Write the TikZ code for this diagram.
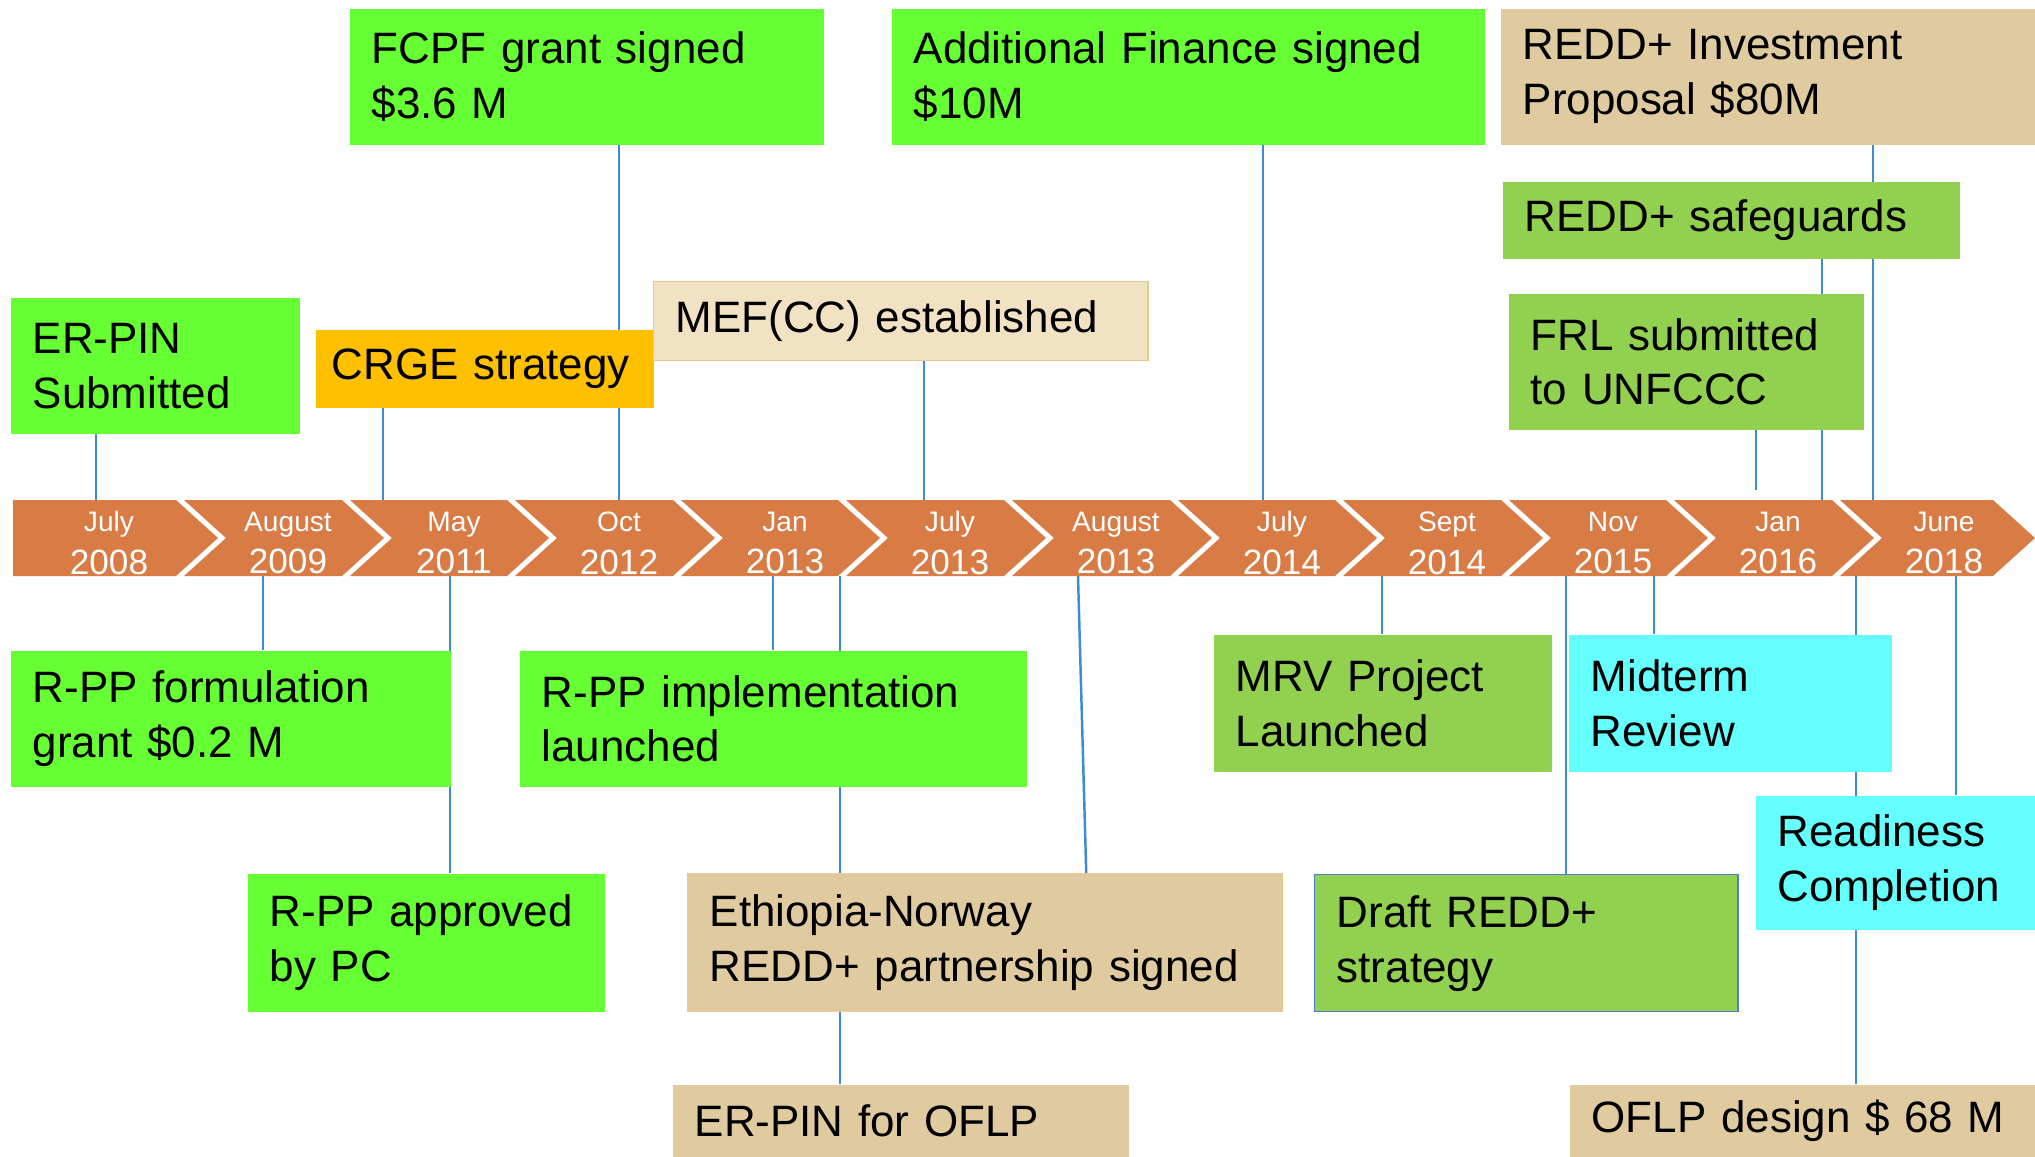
\documentclass[tikz,border=0pt]{standalone}
\usepackage{fontspec}
\setmainfont{Liberation Sans}
\usepackage{xcolor}
\usetikzlibrary{backgrounds}

\definecolor{evgreen}{HTML}{66FF33}
\definecolor{evolive}{HTML}{92D050}
\definecolor{evcyan}{HTML}{66FFFF}
\definecolor{evorange}{HTML}{FFC000}
\definecolor{evtan}{HTML}{E0CBA0}
\definecolor{evtanlight}{HTML}{F2E2C4}
\definecolor{evtanedge}{HTML}{EBC78E}
\definecolor{chevorange}{HTML}{D97B45}
\definecolor{linkblue}{HTML}{3E8AD6}
\definecolor{draftedge}{HTML}{4A7FD0}

\begin{document}
\begin{tikzpicture}[x=0.01cm,y=-0.01cm,
		box/.style={anchor=north west,inner xsep=0.22cm,inner ysep=0pt,align=left,
			font=\fontsize{12.5}{15.6}\selectfont},
		chev/.style={fill=chevorange},
		date/.style={text=white,align=center,font=\fontsize{10}{12.2}\selectfont},
		link/.style={draw=linkblue,line width=0.7pt}]
		\useasboundingbox (0,0) rectangle (2035,1157);
		%
		% boxes above the band
		\node[box,fill=evgreen,minimum height=1.36cm,text width=4.30cm] (fcpf) at (349,8) {FCPF grant signed\\\$3.6 M};
		\node[box,fill=evgreen,minimum height=1.36cm,text width=5.49cm] (addfin) at (891,8) {Additional Finance signed\\\$10M};
		\node[box,fill=evtan,minimum height=1.36cm,text width=4.91cm] (invest) at (1500,8) {REDD+ Investment\\Proposal \$80M};
		\node[box,fill=evolive,minimum height=0.77cm,text width=4.13cm] (safeg) at (1502,181) {REDD+ safeguards};
		\node[box,fill=evolive,minimum height=1.36cm,text width=3.11cm] (frl) at (1508,293) {FRL submitted\\to UNFCCC};
		\node[box,fill=evgreen,minimum height=1.36cm,text width=2.45cm] (erpin) at (10,297) {ER-PIN\\Submitted};
		\node[box,fill=evorange,minimum height=0.78cm,text width=3.06cm,inner xsep=0.16cm] (crge) at (315,329) {\mbox{CRGE strategy}};
		\node[box,fill=evtanlight,draw=evtanedge,minimum height=0.79cm,text width=4.50cm] (mef) at (653,281) {MEF(CC) established};
		%
		% boxes below the band
		\node[box,fill=evgreen,minimum height=1.36cm,text width=3.96cm] (rppform) at (10,650) {R-PP formulation\\grant \$0.2 M};
		\node[box,fill=evgreen,minimum height=1.36cm,text width=4.63cm] (rppimpl) at (519,650) {R-PP implementation\\launched};
		\node[box,fill=evgreen,minimum height=1.38cm,text width=3.13cm] (rppappr) at (247,873) {R-PP approved\\by PC};
		\node[box,fill=evtan,draw=evtanedge,minimum height=1.38cm,text width=5.50cm] (ethnor) at (687,873) {Ethiopia-Norway\\REDD+ partnership signed};
		\node[box,fill=evtan,minimum height=0.73cm,text width=4.12cm] (erpinoflp) at (672,1084) {ER-PIN for OFLP};
		\node[box,fill=evolive,minimum height=1.37cm,text width=2.94cm] (mrv) at (1213,634) {MRV Project\\Launched};
		\node[box,fill=evcyan,minimum height=1.37cm,text width=2.79cm] (midterm) at (1568,634) {Midterm\\Review};
		\node[box,fill=evcyan,minimum height=1.34cm,text width=2.36cm] (readiness) at (1755,795) {Readiness\\Completion};
		\node[box,fill=evolive,draw=draftedge,minimum height=1.37cm,text width=3.79cm] (draft) at (1314,874) {Draft REDD+\\strategy};
		\node[box,fill=evtan,minimum height=0.73cm,text width=4.22cm] (oflp) at (1569,1084) {OFLP design \$ 68 M};
		%
		% the band of chevrons
		\fill[chev] (13,500) -- (176,500) -- ++(42,38) -- (176,576) -- (13,576) -- cycle;
		\fill[chev] (184,500) -- (342,500) -- ++(42,38) -- (342,576) -- (184,576) -- ++(42,-38) -- cycle;
		\fill[chev] (350,500) -- (507,500) -- ++(42,38) -- (507,576) -- (350,576) -- ++(42,-38) -- cycle;
		\fill[chev] (515,500) -- (673,500) -- ++(42,38) -- (673,576) -- (515,576) -- ++(42,-38) -- cycle;
		\fill[chev] (681,500) -- (838,500) -- ++(42,38) -- (838,576) -- (681,576) -- ++(42,-38) -- cycle;
		\fill[chev] (846,500) -- (1004,500) -- ++(42,38) -- (1004,576) -- (846,576) -- ++(42,-38) -- cycle;
		\fill[chev] (1012,500) -- (1170,500) -- ++(42,38) -- (1170,576) -- (1012,576) -- ++(42,-38) -- cycle;
		\fill[chev] (1178,500) -- (1335,500) -- ++(42,38) -- (1335,576) -- (1178,576) -- ++(42,-38) -- cycle;
		\fill[chev] (1343,500) -- (1501,500) -- ++(42,38) -- (1501,576) -- (1343,576) -- ++(42,-38) -- cycle;
		\fill[chev] (1509,500) -- (1666,500) -- ++(42,38) -- (1666,576) -- (1509,576) -- ++(42,-38) -- cycle;
		\fill[chev] (1674,500) -- (1832,500) -- ++(42,38) -- (1832,576) -- (1674,576) -- ++(42,-38) -- cycle;
		\fill[chev] (1840,500) -- (1993,500) -- ++(42,38) -- (1993,576) -- (1840,576) -- ++(42,-38) -- cycle;
		%
		% dates
		\node[date] (jul08) at (109,543) {{\fontsize{8}{12.2}\selectfont July}\\2008};
		\node[date] (aug09) at (288,543) {{\fontsize{8}{12.2}\selectfont August}\\2009};
		\node[date] (may11) at (454,543) {{\fontsize{8}{12.2}\selectfont May}\\2011};
		\node[date] (oct12) at (619,543) {{\fontsize{8}{12.2}\selectfont Oct}\\2012};
		\node[date] (jan13) at (785,543) {{\fontsize{8}{12.2}\selectfont Jan}\\2013};
		\node[date] (jul13) at (950,543) {{\fontsize{8}{12.2}\selectfont July}\\2013};
		\node[date] (aug13) at (1116,543) {{\fontsize{8}{12.2}\selectfont August}\\2013};
		\node[date] (jul14) at (1282,543) {{\fontsize{8}{12.2}\selectfont July}\\2014};
		\node[date] (sep14) at (1447,543) {{\fontsize{8}{12.2}\selectfont Sept}\\2014};
		\node[date] (nov15) at (1613,543) {{\fontsize{8}{12.2}\selectfont Nov}\\2015};
		\node[date] (jan16) at (1778,543) {{\fontsize{8}{12.2}\selectfont Jan}\\2016};
		\node[date] (jun18) at (1944,543) {{\fontsize{8}{12.2}\selectfont June}\\2018};
		%
		% ends of the lines on the band
		\coordinate (c1) at (96,500);
		\coordinate (c2) at (383,500);
		\coordinate (c3) at (619,500);
		\coordinate (c4) at (924,500);
		\coordinate (c5) at (1263,500);
		\coordinate (c6) at (1756,490);
		\coordinate (c7) at (1822,500);
		\coordinate (c8) at (1873,500);
		\coordinate (b1) at (263,576);
		\coordinate (b2) at (450,576);
		\coordinate (b3) at (773,576);
		\coordinate (b4) at (840,576);
		\coordinate (b5) at (1078,576);
		\coordinate (b6) at (1382,576);
		\coordinate (b7) at (1566,576);
		\coordinate (b8) at (1654,576);
		\coordinate (b9) at (1856,576);
		\coordinate (b10) at (1956,576);
		%
		\begin{scope}[on background layer]
		\fill[white] (0,0) rectangle (2035,1157);
		\path[link]
		% lines above the band
		(erpin.south -| c1) edge (c1)
		(crge.south -| c2) edge (c2)
		(fcpf.south -| c3) edge (c3)
		(mef.south -| c4) edge (c4)
		(addfin.south -| c5) edge (c5)
		(frl.south -| c6) edge (c6)
		(safeg.south -| c7) edge (c7)
		(invest.south -| c8) edge (c8)
		% lines below the band
		(b1) edge (b1 |- rppform.north)
		(b2) edge (b2 |- rppappr.north)
		(b3) edge (b3 |- rppimpl.north)
		(b4) edge (b4 |- erpinoflp.north)
		(b5) edge ([xshift=3.99cm]ethnor.north west)
		(b6) edge (b6 |- mrv.north)
		(b7) edge (b7 |- draft.north)
		(b8) edge (b8 |- midterm.north)
		(b9) edge (b9 |- oflp.north)
		(b10) edge (b10 |- readiness.north);
		\end{scope}
	\end{tikzpicture}
\end{document}
